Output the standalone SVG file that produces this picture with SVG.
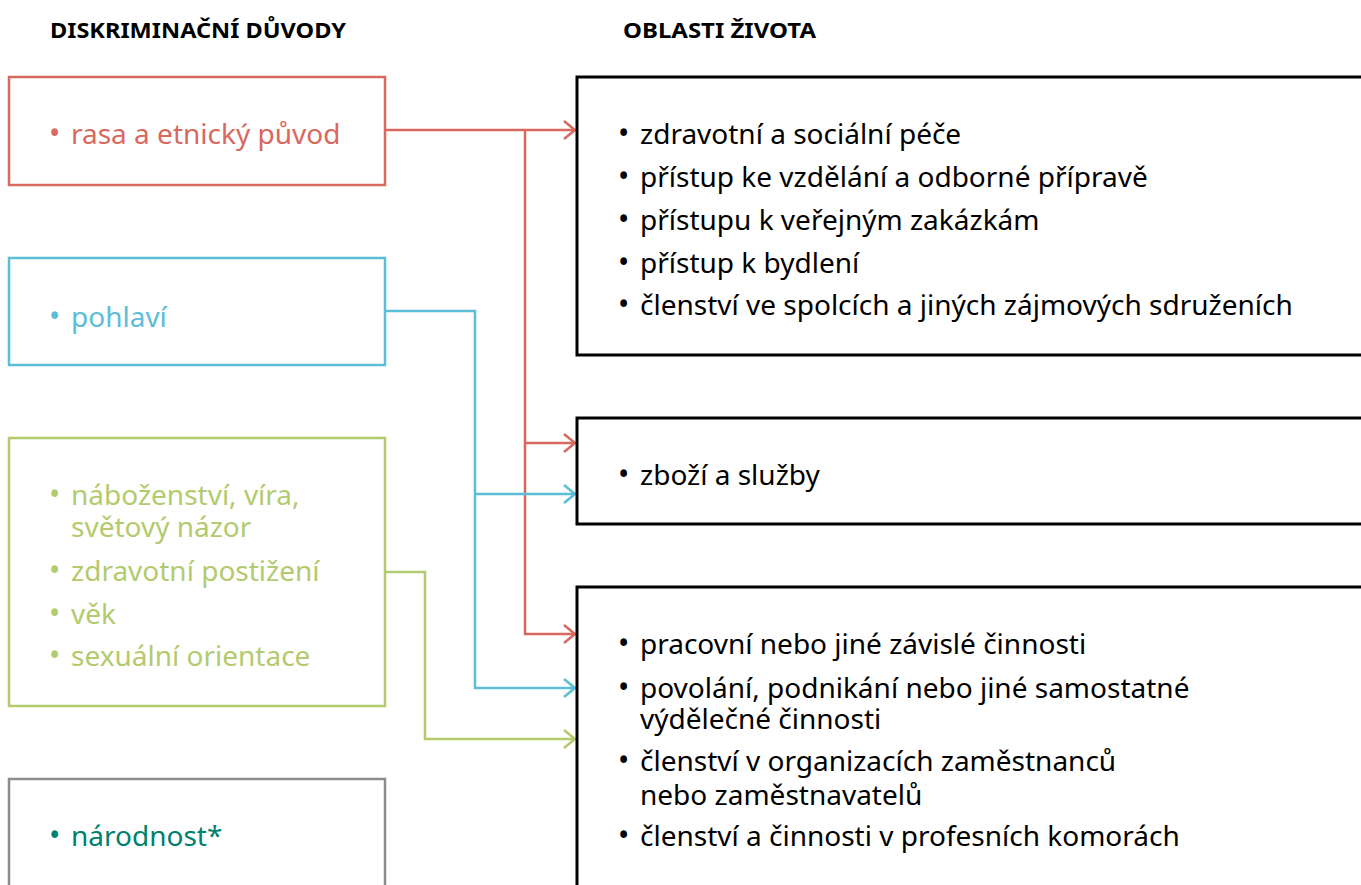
<svg xmlns="http://www.w3.org/2000/svg" width="1361" height="885" viewBox="0 0 1361 885">
<defs>
<style>
.t{font-family:"Noto Sans","Open Sans",sans-serif;font-size:28px}
.b{font-size:30px}
.h{font-family:"Noto Sans","Open Sans",sans-serif;font-size:22px;font-weight:700;fill:#000}
.box{fill:#fff;stroke-width:2.5}
.rbox{fill:#fff;stroke:#000;stroke-width:3}
.c{fill:none;stroke-width:2.5}
</style>
<marker id="aR" markerWidth="16" markerHeight="22" refX="13" refY="11" orient="auto" markerUnits="userSpaceOnUse"><path d="M2,2 L13,11 L2,20" fill="none" stroke="#D9685F" stroke-width="2.5"/></marker>
<marker id="aB" markerWidth="16" markerHeight="22" refX="13" refY="11" orient="auto" markerUnits="userSpaceOnUse"><path d="M2,2 L13,11 L2,20" fill="none" stroke="#5BBED6" stroke-width="2.5"/></marker>
<marker id="aG" markerWidth="16" markerHeight="22" refX="13" refY="11" orient="auto" markerUnits="userSpaceOnUse"><path d="M2,2 L13,11 L2,20" fill="none" stroke="#B3CA6E" stroke-width="2.5"/></marker>
</defs>
<rect width="1361" height="885" fill="#fff"/>
<text class="h" x="50" y="38" textLength="296" lengthAdjust="spacingAndGlyphs">DISKRIMINAČNÍ DŮVODY</text>
<text class="h" x="623" y="38" textLength="193" lengthAdjust="spacingAndGlyphs">OBLASTI ŽIVOTA</text>

<g id="connectors">
<path class="c" stroke="#D9685F" d="M385,130 H575" marker-end="url(#aR)"/>
<path class="c" stroke="#D9685F" d="M525,130 V634 H575" marker-end="url(#aR)"/>
<path class="c" stroke="#D9685F" d="M525,443 H575" marker-end="url(#aR)"/>
<path class="c" stroke="#5BBED6" d="M385,311 H475 V688 H575" marker-end="url(#aB)"/>
<path class="c" stroke="#5BBED6" d="M475,494 H575" marker-end="url(#aB)"/>
<path class="c" stroke="#B3CA6E" d="M385,572 H425 V739 H575" marker-end="url(#aG)"/>
</g>

<g id="rasa">
<rect class="box" x="9" y="77" width="376" height="108" stroke="#D9685F"/>
<text class="t" x="49" y="144" fill="#D9685F"><tspan class="b">•</tspan><tspan x="71">rasa a etnický původ</tspan></text>
</g>
<g id="pohlavi">
<rect class="box" x="9" y="258" width="376" height="107" stroke="#5BBED6"/>
<text class="t" x="49" y="327" fill="#5BBED6"><tspan class="b">•</tspan><tspan x="71">pohlaví</tspan></text>
</g>
<g id="nabozenstvi">
<rect class="box" x="9" y="438" width="376" height="268" stroke="#B3CA6E"/>
<g class="t" fill="#B3CA6E">
<text x="49" y="505"><tspan class="b">•</tspan><tspan x="71">náboženství, víra,</tspan></text>
<text x="71" y="537">světový názor</text>
<text x="49" y="581"><tspan class="b">•</tspan><tspan x="71">zdravotní postižení</tspan></text>
<text x="49" y="624"><tspan class="b">•</tspan><tspan x="71">věk</tspan></text>
<text x="49" y="666"><tspan class="b">•</tspan><tspan x="71">sexuální orientace</tspan></text>
</g>
</g>
<g id="narodnost">
<rect class="box" x="9" y="779" width="376" height="120" stroke="#8C8C8C"/>
<text class="t" x="49" y="846" fill="#00806E"><tspan class="b">•</tspan><tspan x="71">národnost*</tspan></text>
</g>

<g id="oblastA">
<rect class="rbox" x="577" y="77" width="800" height="278"/>
<g class="t" fill="#000">
<text x="618" y="144"><tspan class="b">•</tspan><tspan x="640">zdravotní a sociální péče</tspan></text>
<text x="618" y="187"><tspan class="b">•</tspan><tspan x="640">přístup ke vzdělání a odborné přípravě</tspan></text>
<text x="618" y="230"><tspan class="b">•</tspan><tspan x="640">přístupu k veřejným zakázkám</tspan></text>
<text x="618" y="273"><tspan class="b">•</tspan><tspan x="640">přístup k bydlení</tspan></text>
<text x="618" y="315"><tspan class="b">•</tspan><tspan x="640">členství ve spolcích a jiných zájmových sdruženích</tspan></text>
</g>
</g>
<g id="oblastB">
<rect class="rbox" x="577" y="418" width="800" height="106"/>
<text class="t" x="618" y="485" fill="#000"><tspan class="b">•</tspan><tspan x="640">zboží a služby</tspan></text>
</g>
<g id="oblastC">
<rect class="rbox" x="577" y="587" width="800" height="320"/>
<g class="t" fill="#000">
<text x="618" y="654"><tspan class="b">•</tspan><tspan x="640">pracovní nebo jiné závislé činnosti</tspan></text>
<text x="618" y="698"><tspan class="b">•</tspan><tspan x="640">povolání, podnikání nebo jiné samostatné</tspan></text>
<text x="640" y="729">výdělečné činnosti</text>
<text x="618" y="771"><tspan class="b">•</tspan><tspan x="640">členství v organizacích zaměstnanců</tspan></text>
<text x="640" y="805">nebo zaměstnavatelů</text>
<text x="618" y="846"><tspan class="b">•</tspan><tspan x="640">členství a činnosti v profesních komorách</tspan></text>
</g>
</g>
</svg>
